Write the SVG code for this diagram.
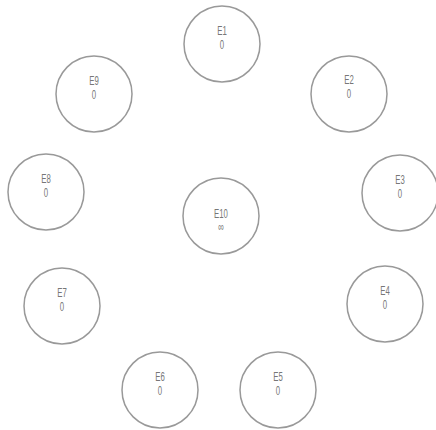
<svg xmlns="http://www.w3.org/2000/svg" width="436" height="430" viewBox="0 0 436 430">
<style>
.n circle{fill:#fff;stroke:#999;stroke-width:1.5}
.n text{font-family:"Liberation Sans",Arial,sans-serif;font-size:13px;fill:#777;text-anchor:middle}
</style>
<rect width="436" height="430" fill="#fff"/>
<g id="connectors"></g>
<g id="E1" class="n"><circle cx="222" cy="44" r="38"/><g transform="translate(222 0) scale(0.6 1)"><text x="0" y="35">E1</text><text x="0" y="49">0</text></g></g>
<g id="E2" class="n"><circle cx="349" cy="94" r="38"/><g transform="translate(349 0) scale(0.6 1)"><text x="0" y="84">E2</text><text x="0" y="98">0</text></g></g>
<g id="E3" class="n"><circle cx="400" cy="193" r="38"/><g transform="translate(400 0) scale(0.6 1)"><text x="0" y="184">E3</text><text x="0" y="198">0</text></g></g>
<g id="E4" class="n"><circle cx="385" cy="304" r="38"/><g transform="translate(385 0) scale(0.6 1)"><text x="0" y="295">E4</text><text x="0" y="309">0</text></g></g>
<g id="E5" class="n"><circle cx="278" cy="390" r="38"/><g transform="translate(278 0) scale(0.6 1)"><text x="0" y="381">E5</text><text x="0" y="395">0</text></g></g>
<g id="E6" class="n"><circle cx="160" cy="390" r="38"/><g transform="translate(160 0) scale(0.6 1)"><text x="0" y="381">E6</text><text x="0" y="395">0</text></g></g>
<g id="E7" class="n"><circle cx="62" cy="306" r="38"/><g transform="translate(62 0) scale(0.6 1)"><text x="0" y="297">E7</text><text x="0" y="311">0</text></g></g>
<g id="E8" class="n"><circle cx="46" cy="192" r="38"/><g transform="translate(46 0) scale(0.6 1)"><text x="0" y="183">E8</text><text x="0" y="197">0</text></g></g>
<g id="E9" class="n"><circle cx="94" cy="94" r="38"/><g transform="translate(94 0) scale(0.6 1)"><text x="0" y="85">E9</text><text x="0" y="99">0</text></g></g>
<g id="E10" class="n"><circle cx="221" cy="216" r="38"/><g transform="translate(221 0) scale(0.6 1)"><text x="0" y="218">E10</text><text x="0" y="231" font-size="11">∞</text></g></g>
</svg>
